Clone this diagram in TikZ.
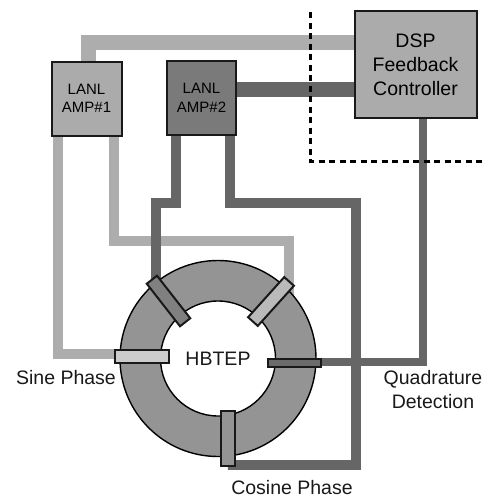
\documentclass[tikz,border=0pt]{standalone}
\usepackage{fontspec}
\setmainfont{Liberation Sans}
\usetikzlibrary{backgrounds}
\definecolor{wlight}{gray}{0.68}
\definecolor{wdark}{gray}{0.40}
\definecolor{ringc}{gray}{0.58}
\tikzset{
  x=1pt,y=-1pt,
  box/.style={draw=black!90,line width=2pt,inner sep=0pt,align=center},
  probe/.style={draw=black!90,line width=2pt,inner sep=0pt,minimum height=13pt,minimum width=54pt},
  lightw/.style={draw=wlight,line width=10pt,miter limit=10},
  darkw/.style={draw=wdark,line width=10pt,miter limit=10},
  lbl/.style={font=\fontsize{19.5}{24.5}\selectfont,align=center,inner sep=0pt,text=black!90},
  dashline/.style={draw=black,line width=3pt,dash pattern=on 6pt off 4.5pt}
}
\begin{document}
\begin{tikzpicture}
\useasboundingbox (0,0) rectangle (485,498);
% boxes
\node[box,fill=black!33,minimum width=70pt,minimum height=74pt,font=\fontsize{15}{18.5}\selectfont] (amp1) at (86.5,98.5) {LANL\\AMP\#1};
\node[box,fill=black!52,minimum width=69pt,minimum height=74pt,font=\fontsize{15}{18.5}\selectfont] (amp2) at (201.5,98) {LANL\\AMP\#2};
\node[box,fill=black!33,minimum width=122pt,minimum height=107pt,font=\fontsize{19.5}{24}\selectfont] (dsp) at (415.5,64.5) {DSP\\Feedback\\Controller};
% ring
\node[circle,draw=black,line width=1.4pt,fill=ringc,inner sep=0pt,minimum size=196pt] (ring) at (218,358.5) {};
\node[circle,draw=black,line width=1.4pt,fill=white,inner sep=0pt,minimum size=115pt,font=\fontsize{19.5}{24}\selectfont,text=black!90] (hole) at (218,358.5) {HBTEP};
% probes
\node[probe,fill=black!20] (psine) at (141.5,356) {};
\node[probe,fill=black!58,minimum height=8pt,minimum width=53pt] (pquad) at (294.5,362.5) {};
\node[probe,fill=black!42,rotate=90,minimum height=14pt,minimum width=55pt] (pcos) at (227.5,438) {};
\node[probe,fill=black!50,rotate=-52] (pul) at (168.5,301) {};
\node[probe,fill=black!27,rotate=48] (pur) at (271,301.5) {};
% labels
\node[lbl] (sine) at (66,378) {Sine Phase};
\node[lbl] (quad) at (433,389.5) {Quadrature\\Detection};
\node[lbl] (cos) at (292,488) {Cosine Phase};
% bends
\coordinate (t1) at (88,42.5);
\coordinate (s1) at (58,354);
\coordinate (u1) at (114,241);
\coordinate (u2) at (289,241);
\coordinate (l1) at (175.5,203);
\coordinate (l2) at (156,203);
\coordinate (r1) at (230,203);
\coordinate (r2) at (356,203);
\coordinate (r3) at (356,465);
\coordinate (r4) at (228,465);
\coordinate (q1) at (423,362);
\coordinate (thick) at (300,89);
\coordinate (d0) at (310,12);
\coordinate (d1) at (310,161);
\coordinate (d2) at (485,161);
\begin{scope}[on background layer]
\fill[white] (0,0) rectangle (485,498);
\draw[lightw,line width=15pt] (amp1.north -| t1) -- (t1) -- (t1 -| dsp.west);
\draw[lightw] (amp1.south -| s1) -- (s1) -- (s1 -| psine.west);
\draw[lightw] (amp1.south -| u1) -- (u1) -- (u2) -- (pur.south west -| u2);
\draw[darkw,line width=15pt] (thick -| amp2.east) -- (thick -| dsp.west);
\draw[darkw] (amp2.south -| l1) -- (l1) -- (l2) -- (pul.south west -| l2);
\draw[darkw] (amp2.south -| r1) -- (r1) -- (r2) -- (r3) -- (r4) -- (pcos.west -| r4);
\draw[darkw,line width=7.5pt] (dsp.south -| q1) -- (q1) -- (q1 -| pquad.east);
\end{scope}
\draw[dashline] (d0) -- (d1) -- (d2);
\end{tikzpicture}
\end{document}
